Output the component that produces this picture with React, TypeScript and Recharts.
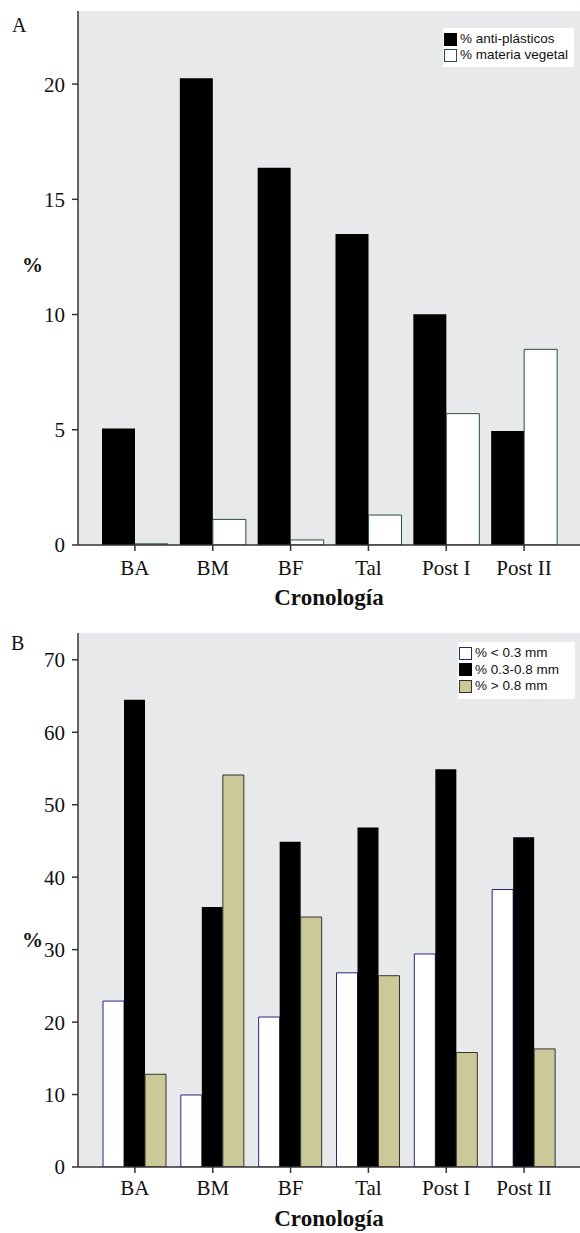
import React from 'react';
import { BarChart, Bar, XAxis, YAxis, CartesianGrid, Label } from 'recharts';

const categories = ['BA', 'BM', 'BF', 'Tal', 'Post I', 'Post II'];
const antiPlasticos = [5.06, 20.25, 16.37, 13.49, 10.01, 4.95];
const materiaVegetal = [0.05, 1.11, 0.22, 1.3, 5.7, 8.49];
const menor03 = [22.9, 9.94, 20.7, 26.8, 29.4, 38.3];
const entre0308 = [64.5, 35.9, 44.9, 46.85, 54.9, 45.5];
const mayor08 = [12.8, 54.1, 34.5, 26.4, 15.8, 16.3];
const ticksA = [0, 5, 10, 15, 20];
const ticksB = [0, 10, 20, 30, 40, 50, 60, 70];
const maxA = 23.17;
const maxB = 73.7;

const dataA = categories.map((c, i) => ({ cat: c, anti: antiPlasticos[i], veg: materiaVegetal[i] }));
const dataB = categories.map((c, i) => ({ cat: c, lt: menor03[i], mid: entre0308[i], gt: mayor08[i] }));

const SERIF = '"Liberation Serif", "Times New Roman", serif';
const SANS = '"Liberation Sans", Arial, sans-serif';
const AX = '#333';
const BG = '#e8e9eb';
const KHAKI = '#cbc997';

type Item = { label: string; fill: string; stroke: string };

function LegendBox({ items, left, top, width, rowH }: { items: Item[]; left: number; top: number; width: number; rowH: number }) {
  return (
    <div style={{ position: 'absolute', left, top, background: '#fff', width, padding: '3px 0 4px 1px', fontFamily: SANS, fontSize: 13.5, color: '#111' }}>
      {items.map((it) => (
        <div key={it.label} style={{ display: 'flex', alignItems: 'center', height: rowH }}>
          <span style={{ display: 'inline-block', width: 11, height: 11, background: it.fill, border: `1px solid ${it.stroke}`, marginRight: 3 }} />
          <span style={{ lineHeight: '14px', whiteSpace: 'nowrap' }}>{it.label}</span>
        </div>
      ))}
    </div>
  );
}

const legendA: Item[] = [
  { label: '% anti-plásticos', fill: '#000', stroke: '#000' },
  { label: '% materia vegetal', fill: '#fff', stroke: '#24523a' },
];
const legendB: Item[] = [
  { label: '% < 0.3 mm', fill: '#fff', stroke: '#1f2a7a' },
  { label: '% 0.3-0.8 mm', fill: '#000', stroke: '#000' },
  { label: '% > 0.8 mm', fill: KHAKI, stroke: '#333' },
];

const tickStyle = { fontFamily: SERIF, fontSize: 21, fill: '#111' };

export default function App() {
  return (
    <div style={{ position: 'absolute', left: 0, top: 0, width: 580, height: 1233, background: '#fff', overflow: 'hidden' }}>
      <div style={{ position: 'absolute', left: 0, top: 0 }}>
        <BarChart width={580} height={615} data={dataA} margin={{ top: 11, right: 0, left: 0, bottom: 0 }} barCategoryGap={6} barGap={0}>
          <CartesianGrid fill={BG} horizontal={false} vertical={false} stroke="none" />
          <XAxis xAxisId="top" orientation="top" height={0} tick={false} tickLine={false} axisLine={{ stroke: AX, strokeWidth: 1.5 }} />
          <XAxis dataKey="cat" height={70} padding={{ left: 18, right: 17 }} tick={tickStyle} tickSize={6} tickMargin={9} tickLine={{ stroke: AX, strokeWidth: 1.5 }} axisLine={{ stroke: AX, strokeWidth: 1.5 }} interval={0}>
            <Label value="Cronología" position="insideBottom" offset={10} style={{ fontFamily: SERIF, fontSize: 23, fontWeight: 'bold', fill: '#111' }} />
          </XAxis>
          <YAxis width={78} domain={[0, maxA]} ticks={ticksA} tick={tickStyle} tickSize={6} tickMargin={7} tickLine={{ stroke: AX, strokeWidth: 1.5 }} axisLine={{ stroke: AX, strokeWidth: 1.5 }} allowDataOverflow>
            <Label value="%" position="insideLeft" offset={22} dy={-13} style={{ fontFamily: SERIF, fontSize: 21, fontWeight: 'bold', fill: '#111' }} />
          </YAxis>
          <Bar dataKey="anti" name="% anti-plásticos" fill="#000" isAnimationActive={false} />
          <Bar dataKey="veg" name="% materia vegetal" fill="#fff" stroke="#24523a" strokeWidth={1} isAnimationActive={false} />
        </BarChart>
      </div>

      <div style={{ position: 'absolute', left: 0, top: 610 }}>
        <BarChart width={580} height={623} data={dataB} margin={{ top: 23, right: 0, left: 0, bottom: 0 }} barCategoryGap={7} barGap={0}>
          <CartesianGrid fill={BG} horizontal={false} vertical={false} stroke="none" />
          <XAxis xAxisId="top" orientation="top" height={0} tick={false} tickLine={false} axisLine={{ stroke: AX, strokeWidth: 1.5 }} />
          <XAxis dataKey="cat" height={66} padding={{ left: 18, right: 17 }} tick={tickStyle} tickSize={6} tickMargin={7} tickLine={{ stroke: AX, strokeWidth: 1.5 }} axisLine={{ stroke: AX, strokeWidth: 1.5 }} interval={0}>
            <Label value="Cronología" position="insideBottom" offset={7} style={{ fontFamily: SERIF, fontSize: 23, fontWeight: 'bold', fill: '#111' }} />
          </XAxis>
          <YAxis width={78} domain={[0, maxB]} ticks={ticksB} tick={tickStyle} tickSize={6} tickMargin={7} tickLine={{ stroke: AX, strokeWidth: 1.5 }} axisLine={{ stroke: AX, strokeWidth: 1.5 }} allowDataOverflow>
            <Label value="%" position="insideLeft" offset={22} dy={40} style={{ fontFamily: SERIF, fontSize: 21, fontWeight: 'bold', fill: '#111' }} />
          </YAxis>
          <Bar dataKey="lt" name="% < 0.3 mm" fill="#fff" stroke="#1f2a7a" strokeWidth={1} isAnimationActive={false} />
          <Bar dataKey="mid" name="% 0.3-0.8 mm" fill="#000" isAnimationActive={false} />
          <Bar dataKey="gt" name="% > 0.8 mm" fill={KHAKI} stroke="#333" strokeWidth={1} isAnimationActive={false} />
        </BarChart>
      </div>

      <LegendBox items={legendA} left={443} top={28} width={130} rowH={16} />
      <LegendBox items={legendB} left={458} top={642} width={116} rowH={16.5} />
      <div style={{ position: 'absolute', left: 12, top: 14, fontFamily: SERIF, fontSize: 20, color: '#111' }}>A</div>
      <div style={{ position: 'absolute', left: 11, top: 632, fontFamily: SERIF, fontSize: 20, color: '#111' }}>B</div>
    </div>
  );
}
